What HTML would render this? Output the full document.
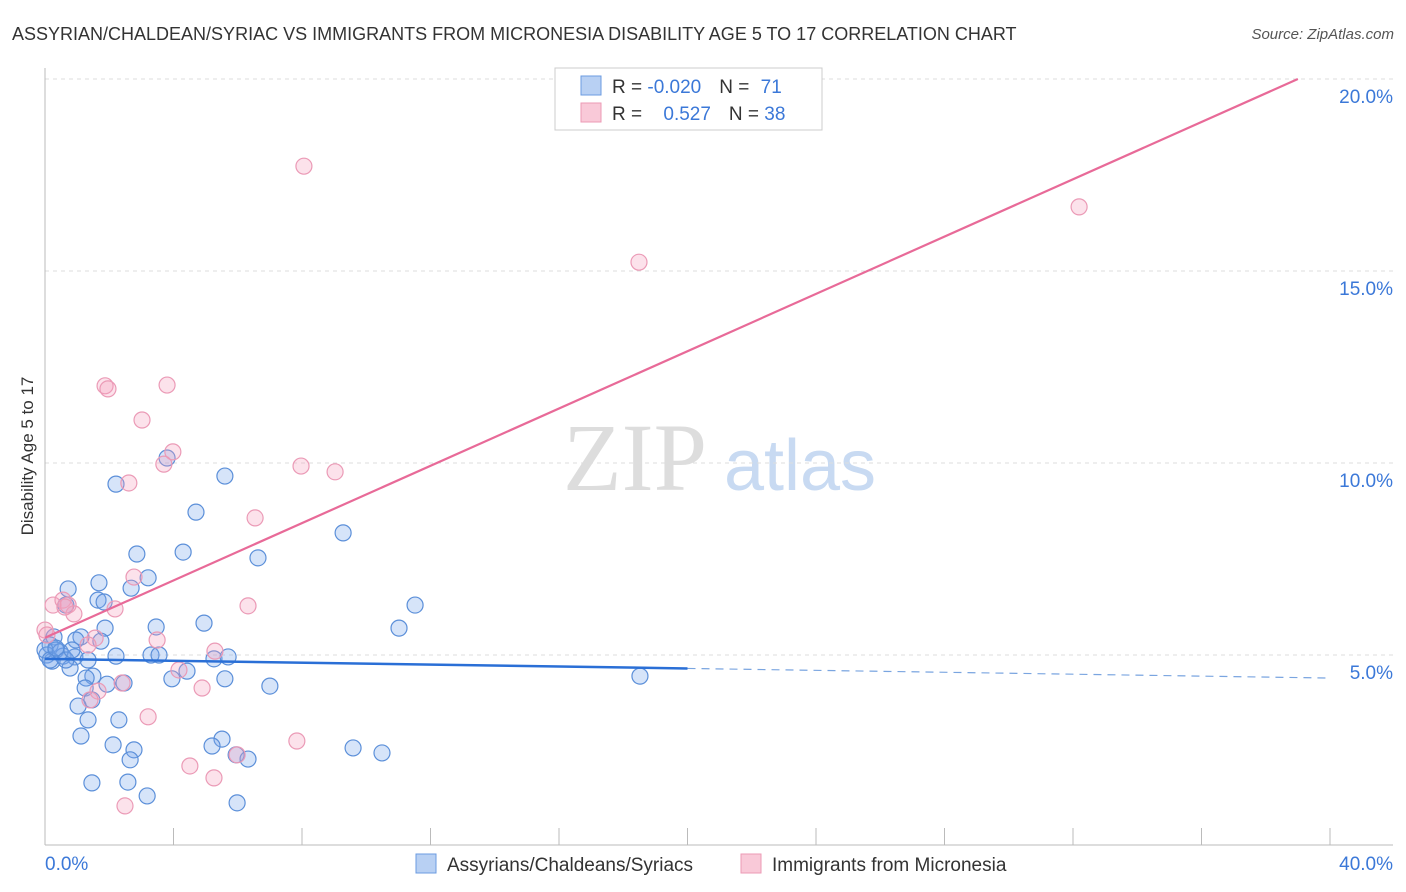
<!DOCTYPE html>
<html><head><meta charset="utf-8"><style>
body{margin:0;background:#fff;font-family:"Liberation Sans",sans-serif;}
svg{display:block}
</style></head><body>
<svg id="chart" width="1406" height="892">
<text x="12" y="40" font-size="18" fill="#333">ASSYRIAN/CHALDEAN/SYRIAC VS IMMIGRANTS FROM MICRONESIA DISABILITY AGE 5 TO 17 CORRELATION CHART</text>
<text x="1394" y="39" font-size="15" fill="#555" text-anchor="end" font-style="italic">Source: ZipAtlas.com</text>
<text x="33" y="456" font-size="17" fill="#333" text-anchor="middle" transform="rotate(-90 33 456)">Disability Age 5 to 17</text>
<g>
<text x="635" y="490" font-size="96" fill="#ddd" font-family="Liberation Serif,serif" text-anchor="middle">ZIP</text>
<text x="800" y="490" font-size="72" fill="#c8daf2" text-anchor="middle">atlas</text>
</g>
<g id="grid"></g><g id="axes"></g><g id="pts"></g><g id="lines"></g>
<g>
<rect x="555" y="68" width="267" height="62" fill="#fff" stroke="#ccc"/>
<rect x="581" y="76" width="20" height="19" fill="#b8d0f3" stroke="#6b9be0"/>
<rect x="581" y="103" width="20" height="19" fill="#f9c9d8" stroke="#ec9ab5"/>
<text x="612" y="93" font-size="19" fill="#333">R = <tspan fill="#3b78d8">-0.020</tspan><tspan dx="18">N = </tspan><tspan fill="#3b78d8" dx="6">71</tspan></text>
<text x="612" y="120" font-size="19" fill="#333">R = <tspan fill="#3b78d8" dx="16">0.527</tspan><tspan dx="18">N = </tspan><tspan fill="#3b78d8">38</tspan></text>
</g>
<g>
<rect x="416" y="854" width="20" height="19" fill="#b8d0f3" stroke="#6b9be0"/>
<text x="447" y="871" font-size="19" fill="#333">Assyrians/Chaldeans/Syriacs</text>
<rect x="741" y="854" width="20" height="19" fill="#f9c9d8" stroke="#ec9ab5"/>
<text x="772" y="871" font-size="19" fill="#333">Immigrants from Micronesia</text>
</g>
</svg>
<script>
const blueX=[2.21,5.60,3.80,4.70,9.28,2.86,4.30,6.63,3.21,2.68,0.72,1.68,1.65,1.84,11.52,0.65,4.95,3.46,1.87,11.02,0.28,1.12,1.74,0.96,0.16,0.34,0.06,0.56,0.93,2.21,3.30,3.55,5.26,5.70,0.22,0.78,4.42,1.49,1.28,2.46,3.95,5.60,7.00,18.52,1.25,1.93,1.46,1.03,1.34,2.30,1.12,5.51,2.12,2.77,5.20,5.95,6.32,2.65,9.59,10.49,1.46,2.58,3.18,5.98,0.0,0.16,0.47,0.65,0.84,0.34,1.34];
const blueY=[9.45,9.66,10.13,8.72,8.18,7.63,7.68,7.53,7.01,6.74,6.72,6.88,6.43,6.38,6.30,6.30,5.83,5.73,5.70,5.70,5.47,5.47,5.36,5.39,5.26,5.13,5.00,4.97,4.95,4.97,5.00,5.00,4.90,4.95,4.84,4.66,4.58,4.45,4.40,4.27,4.38,4.38,4.19,4.45,4.14,4.24,3.83,3.67,3.31,3.31,2.89,2.81,2.66,2.53,2.63,2.40,2.29,2.27,2.58,2.45,1.67,1.69,1.33,1.15,5.13,4.87,5.08,4.87,5.13,5.18,4.87];
const pinkX=[8.06,32.19,18.49,1.87,1.96,3.80,3.02,3.98,3.70,7.97,9.03,2.61,6.54,2.77,0.25,0.56,0.72,0.90,2.18,6.32,0.0,1.56,3.49,1.34,5.29,4.17,2.40,1.65,4.89,1.40,3.21,7.84,4.51,5.26,5.98,2.49,0.62,0.06];
const pinkY=[17.73,16.67,15.23,12.01,11.93,12.03,11.12,10.29,9.97,9.92,9.77,9.48,8.57,7.03,6.30,6.43,6.30,6.07,6.20,6.28,5.65,5.44,5.39,5.26,5.10,4.61,4.27,4.06,4.14,3.83,3.39,2.76,2.11,1.80,2.40,1.07,6.25,5.52];
const yTicks=[5,10,15,20];
const yTickLabels=["5.0%","10.0%","15.0%","20.0%"];
const xTicks=[0,4,8,12,16,20,24,28,32,36,40];
const blueTrend=[4.9,4.65,4.4];
const pinkTrend=[5.45,20.0];
const pinkTrendEndX=39;
const NS="http://www.w3.org/2000/svg";
const X=v=>45+v*32.125, Y=v=>847-v*38.4;
function mk(tag,attrs,parent){const e=document.createElementNS(NS,tag);for(const k in attrs)e.setAttribute(k,attrs[k]);parent.appendChild(e);return e;}
const grid=document.getElementById('grid'),axes=document.getElementById('axes'),pts=document.getElementById('pts'),lines=document.getElementById('lines');
yTicks.forEach((t,i)=>{
 const l=mk('line',{x1:45,x2:1393,y1:Y(t),y2:Y(t),stroke:'#ddd','stroke-dasharray':'4,4'},grid);
 
 
 const tx=mk('text',{x:1393,y:Y(t)+24,'font-size':19,fill:'#3b78d8','text-anchor':'end'},axes);
 tx.textContent=yTickLabels[i];
 
 
});
mk('line',{x1:45,x2:45,y1:68,y2:845,stroke:'#bbb'},axes);
mk('line',{x1:45,x2:1393,y1:845,y2:845,stroke:'#bbb'},axes);
xTicks.forEach(t=>{const l=mk('line',{x1:X(t),x2:X(t),y1:828,y2:845,stroke:'#bbb'},axes);
 
 });
const x0=mk('text',{x:45,y:870,'font-size':19,fill:'#3b78d8'},axes);x0.textContent='0.0%';


const x1=mk('text',{x:1393,y:870,'font-size':19,fill:'#3b78d8','text-anchor':'end'},axes);x1.textContent='40.0%';


blueX.forEach((v,i)=>{const c=mk('circle',{cx:X(v),cy:Y(blueY[i]),r:8,fill:'rgba(120,165,235,0.3)',stroke:'#5b8fd9','stroke-width':1.2},pts);
 
 });
pinkX.forEach((v,i)=>{const c=mk('circle',{cx:X(v),cy:Y(pinkY[i]),r:8,fill:'rgba(245,160,190,0.3)',stroke:'#eb9ab6','stroke-width':1.2},pts);
 
 });
const b1=mk('line',{x1:X(0),y1:Y(blueTrend[0]),x2:X(20),y2:Y(blueTrend[1]),stroke:'#2a6fd6','stroke-width':2.5},lines);


const b2=mk('line',{x1:X(20),y1:Y(blueTrend[1]),x2:X(40),y2:Y(blueTrend[2]),stroke:'#7aa5e0','stroke-width':1.2,'stroke-dasharray':'8,6'},lines);


const p1=mk('line',{x1:X(0),y1:Y(pinkTrend[0]),x2:X(pinkTrendEndX),y2:Y(pinkTrend[1]),stroke:'#e86a98','stroke-width':2.2},lines);


</script>
</body></html>
